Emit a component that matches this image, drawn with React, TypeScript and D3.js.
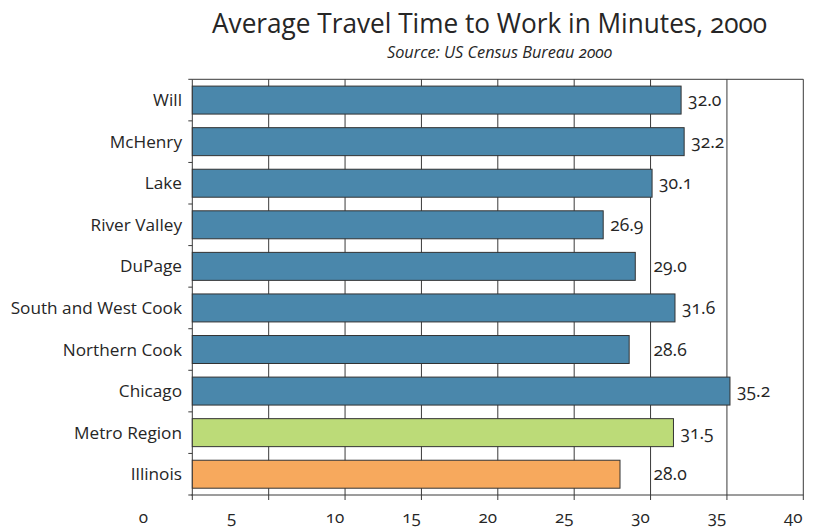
import React from "react";
import * as d3 from "d3";

// Average commute time by area, 2000
const areas = [
  "Will",
  "McHenry",
  "Lake",
  "River Valley",
  "DuPage",
  "South and West Cook",
  "Northern Cook",
  "Chicago",
  "Metro Region",
  "Illinois",
];
const minutes = [32.0, 32.2, 30.1, 26.9, 29.0, 31.6, 28.6, 35.2, 31.5, 28.0];
const groups = ["county", "county", "county", "county", "county", "county", "county", "county", "region", "state"];
const xTicks = [0, 5, 10, 15, 20, 25, 30, 35, 40];

const W = 813;
const H = 527;
const FONT = "'Open Sans', 'Noto Sans', sans-serif";
const TEXT = "#262626";
const LINE = "#3a3a3a";

const fills: Record<string, string> = {
  county: "#4a87ab",
  region: "#bcdb78",
  state: "#f7a95d",
};

// the first two axis labels sit further left than the rest
const tickLabelShift: Record<number, number> = { 0: -39, 5: -27 };

export default function App() {
  const x = d3.scaleLinear().domain([0, 40]).range([192.3, 803.3]);
  const y = d3
    .scaleBand<string>()
    .domain(areas)
    .range([79.3, 495])
    .paddingInner(0.327)
    .paddingOuter(0.1635);

  const top = 79.3;
  const bottom = 495;
  const labelW = 34;

  // value labels sit just past the bar end, hopping over a gridline they would cross
  const labelX = (v: number) => {
    let lx = x(v) + 7;
    for (const t of xTicks) {
      const gx = x(t);
      if (gx > lx && gx < lx + labelW) lx = gx + 3;
    }
    return lx;
  };

  const boundaries = d3.range(areas.length + 1).map(
    (i) => top + (i * (bottom - top)) / areas.length
  );

  return (
    <svg
      width={W}
      height={H}
      style={{ position: "absolute", left: 0, top: 0, background: "#fff" }}
      fontFamily={FONT}
    >
      <rect width={W} height={H} fill="#fff" />
      <text
        x={212}
        y={33}
        fontSize={28}
        fill={TEXT}
        textLength={555}
        lengthAdjust="spacingAndGlyphs"
        style={{ fontFeatureSettings: '"onum"' }}
      >
        Average Travel Time to Work in Minutes, 2000
      </text>
      <text
        x={387}
        y={58}
        fontSize={15.5}
        fontStyle="italic"
        fill={TEXT}
        textLength={225}
        lengthAdjust="spacingAndGlyphs"
        style={{ fontFeatureSettings: '"onum"' }}
      >
        Source: US Census Bureau 2000
      </text>

      {/* frame and vertical gridlines */}
      <line x1={x(0)} x2={x(40)} y1={top} y2={top} stroke={LINE} strokeWidth={1} />
      {xTicks.map((t) => (
        <line
          key={"g" + t}
          x1={x(t)}
          x2={x(t)}
          y1={top}
          y2={bottom + 5}
          stroke={LINE}
          strokeWidth={1}
        />
      ))}
      <line x1={x(0) - 1} x2={x(40)} y1={bottom} y2={bottom} stroke={LINE} strokeWidth={1} />

      {/* category tick marks */}
      {boundaries.map((b, i) => (
        <line key={"yt" + i} x1={x(0) - 4} x2={x(0)} y1={b} y2={b} stroke={LINE} strokeWidth={1} />
      ))}

      {/* bars */}
      {areas.map((a, i) => (
        <rect
          key={a}
          x={x(0)}
          y={y(a)}
          width={x(minutes[i]) - x(0)}
          height={y.bandwidth()}
          fill={fills[groups[i]]}
          stroke="#333"
          strokeWidth={1}
        />
      ))}

      {/* category names */}
      {areas.map((a) => (
        <text
          key={"l" + a}
          x={182}
          y={(y(a) as number) + y.bandwidth() / 2}
          dy="0.35em"
          textAnchor="end"
          fontSize={17.2}
          fill={TEXT}
        >
          {a}
        </text>
      ))}

      {/* value labels */}
      {areas.map((a, i) => (
        <text
          key={"v" + a}
          x={labelX(minutes[i])}
          y={(y(a) as number) + y.bandwidth() / 2}
          dy="0.35em"
          fontSize={17.5}
          fill={TEXT}
          style={{ fontFeatureSettings: '"onum"' }}
        >
          {minutes[i].toFixed(1)}
        </text>
      ))}

      {/* axis labels */}
      {xTicks.map((t) => (
        <text
          key={"xl" + t}
          x={x(t) - 10 + (tickLabelShift[t] ?? 0)}
          y={523}
          textAnchor="middle"
          fontSize={17}
          fill={TEXT}
          style={{ fontFeatureSettings: '"onum"' }}
        >
          {t}
        </text>
      ))}
    </svg>
  );
}
